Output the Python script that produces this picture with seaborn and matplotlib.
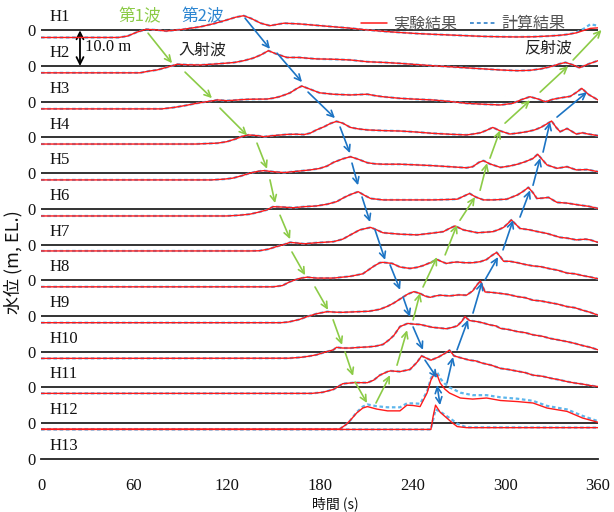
import numpy as np
import pandas as pd
import matplotlib
matplotlib.use("Agg")
import matplotlib.pyplot as plt
import seaborn as sns
from matplotlib.lines import Line2D

# ---------------- data ----------------
gauges = ["H1", "H2", "H3", "H4", "H5", "H6", "H7", "H8", "H9", "H10", "H11", "H12", "H13"]
x_ticks = [0, 60, 120, 180, 240, 300, 360]

h1_t = [0, 50, 56, 62, 68, 75, 81, 92, 103, 112, 120, 126, 131, 136, 142, 148, 153, 157, 162, 167, 178, 189, 200, 211, 222, 232, 243, 253, 264, 275, 286, 297, 308, 318, 328, 335, 341, 346, 351, 355, 360]
h1_exp = [-2.0, -2.0, -1.6, -0.5, 0.3, 0.1, -0.2, 0.3, 1.0, 1.9, 2.9, 3.7, 4.1, 3.3, 2.0, 1.3, 1.7, 2.0, 1.9, 1.8, 1.4, 1.0, 0.6, 0.1, -0.3, -0.6, -0.9, -1.1, -1.3, -1.5, -1.7, -1.8, -1.85, -1.8, -1.6, -1.4, -1.1, -0.7, 0.0, 0.55, 0.7]
h1_calc = [-2.0, -2.0, -1.6, -0.5, 0.3, 0.1, -0.2, 0.3, 1.0, 1.9, 2.9, 3.7, 4.1, 3.3, 2.0, 1.3, 1.7, 2.0, 1.9, 1.8, 1.4, 1.0, 0.6, 0.1, -0.3, -0.6, -0.9, -1.1, -1.3, -1.5, -1.7, -1.8, -1.85, -1.8, -1.6, -1.4, -1.1, -0.6, 0.5, 1.7, 1.3]

h2_t = [0, 64, 70, 75, 80, 85, 88, 95, 103, 110, 118, 125, 131, 137, 142, 147, 152, 159, 167, 172, 178, 189, 200, 211, 222, 232, 243, 253, 264, 275, 286, 297, 308, 316, 323, 330, 335, 339, 344, 348, 354, 360]
h2_exp = [-1.9, -1.9, -1.4, -1.1, -0.5, 0.1, 0.5, 0.35, 0.3, 0.5, 0.75, 1.0, 1.5, 2.2, 3.1, 4.3, 3.4, 2.4, 2.4, 2.2, 2.0, 1.9, 1.7, 1.2, 1.0, 0.75, 0.4, 0.1, -0.2, -0.5, -0.8, -1.1, -1.3, -1.2, -0.8, -0.1, 0.6, 1.0, 0.3, -0.5, 0.6, 1.5]

h3_t = [0, 78, 86, 94, 101, 107, 114, 120, 124, 130, 135, 146, 150, 154, 158, 161, 165, 168.5, 174, 180, 189, 200, 205, 211, 216, 221, 232, 243, 253, 264, 275, 286, 297, 305, 310, 316, 321, 326, 331, 336, 342, 346, 349.5, 354, 360]
h3_exp = [-2.0, -2.0, -1.6, -1.0, -0.4, 0.0, 0.5, 0.3, 0.4, 0.6, 0.7, 0.75, 1.0, 1.4, 2.0, 2.5, 3.6, 4.4, 3.5, 2.5, 2.1, 1.9, 2.0, 2.1, 1.7, 1.4, 0.95, 0.7, 0.5, 0.1, -0.45, -0.7, -0.9, -0.45, 0.5, 1.4, 0.8, 0.0, 0.7, 1.1, 1.5, 2.6, 3.75, 2.0, 0.5]

h4_t = [0, 100, 108, 114, 120, 126, 130, 134, 140, 144, 150, 159, 165, 170, 174, 178, 183, 187, 191, 195, 200, 205, 211, 222, 232, 243, 253, 264, 275, 280, 284, 288, 292, 297, 303, 308, 314, 319, 323, 327, 330, 333, 335.5, 340, 346, 350, 353, 360]
h4_exp = [-1.85, -1.85, -1.7, -1.6, -1.2, -0.4, 0.3, 0.7, 0.5, 0.2, 0.5, 0.85, 0.9, 0.8, 1.2, 2.1, 3.0, 3.9, 4.5, 4.0, 2.8, 2.4, 2.1, 1.9, 1.8, 1.5, 1.15, 0.9, 0.7, 1.0, 1.3, 2.0, 2.8, 1.8, 0.95, 1.2, 1.6, 2.1, 2.8, 3.8, 4.6, 2.8, 1.6, 2.5, 0.95, 1.3, 1.0, 0.5]

h5_t = [0, 110, 118, 124, 130, 135, 140, 144, 150, 157, 165, 174, 180, 185, 189, 195, 200, 205, 211, 216, 221, 232, 243, 253, 264, 275, 279, 283, 286, 290, 297, 303, 308, 313, 318, 321, 324, 327, 333.5, 340, 346, 353, 360]
h5_exp = [-1.9, -1.9, -1.7, -1.4, -0.7, 0.0, 0.5, 0.7, 0.4, 0.15, 0.5, 0.9, 1.3, 2.0, 3.0, 4.0, 4.6, 3.9, 2.9, 2.6, 2.5, 2.5, 2.3, 2.1, 1.8, 1.5, 1.8, 3.0, 3.5, 2.6, 1.6, 2.0, 2.5, 3.2, 4.1, 5.3, 3.8, 2.3, 1.35, 1.8, 0.9, 1.0, 0.4]

h6_t = [0, 120, 128, 135, 141, 146, 150, 156, 163, 170, 178, 185, 191, 196, 200, 205, 209, 213, 221, 232, 243, 253, 262, 269, 273, 277, 281, 286, 292, 301, 308, 312, 315, 318, 320.5, 324, 328, 333.5, 340, 348, 354, 360]
h6_exp = [-2.0, -2.0, -1.8, -1.5, -0.9, -0.3, 0.6, 0.5, 0.3, 0.6, 0.8, 1.3, 2.0, 3.2, 4.0, 4.8, 3.8, 2.9, 2.5, 2.5, 2.5, 2.5, 2.6, 2.7, 3.5, 4.3, 3.3, 2.5, 2.5, 2.7, 3.9, 5.0, 6.0, 4.5, 2.9, 3.0, 3.2, 1.8, 1.6, 1.05, 0.7, 0.1]

h7_t = [0, 135, 141, 147, 152, 157, 161, 166, 170, 178, 189, 195, 200, 206, 213, 217, 221, 232, 243, 253, 260, 264, 267.6, 273, 282, 292, 296, 299, 302, 304, 307, 309.6, 316, 320, 327, 335.5, 340, 346, 352, 355, 360]
h7_exp = [-1.8, -1.8, -1.75, -1.3, -0.6, 0.0, 0.6, 0.4, 0.2, 0.5, 0.8, 1.5, 2.7, 4.1, 4.8, 4.1, 3.3, 2.9, 2.7, 3.2, 3.6, 4.5, 5.2, 4.1, 3.3, 3.6, 4.2, 4.8, 6.0, 6.9, 5.6, 4.5, 4.1, 3.7, 3.1, 2.0, 1.8, 1.3, 1.5, 1.3, 0.6]

h8_t = [0, 150, 156, 161, 167, 172, 178, 185, 189, 200, 208, 212, 215, 219, 221, 227, 232, 238.5, 243, 247, 252, 256, 259, 262, 266, 269, 274, 279, 284, 288, 291, 294.5, 297, 299, 303, 308, 313, 318, 323, 329, 334, 340, 345, 350, 355, 360]
h8_exp = [-1.85, -1.85, -1.5, -0.4, 0.5, 0.85, 0.6, 0.6, 0.6, 1.1, 1.8, 3.0, 3.9, 4.9, 5.0, 4.7, 3.7, 3.3, 3.6, 4.1, 5.0, 5.8, 5.2, 4.7, 5.0, 5.1, 4.9, 4.9, 5.2, 5.8, 6.8, 7.8, 6.5, 5.3, 5.3, 4.9, 4.4, 4.0, 3.8, 3.2, 2.8, 2.0, 1.8, 1.3, 0.9, 0.4]

h9_t = [0, 155, 160, 167, 172, 178, 185, 190, 195, 200, 206, 212, 219, 224, 228, 233, 237, 241, 245, 248, 251.5, 255, 258, 264, 270, 275, 279, 282, 284, 287, 291, 297, 302, 308, 313, 318, 323, 329, 334, 340, 345, 350, 355, 360]
h9_exp = [-1.9, -1.9, -1.7, -1.0, -0.2, 0.6, 1.2, 1.05, 1.0, 1.1, 1.2, 1.3, 1.85, 2.7, 3.6, 5.0, 6.1, 6.8, 6.3, 5.6, 5.2, 5.6, 5.8, 5.6, 5.9, 5.8, 7.0, 8.8, 9.8, 6.7, 6.6, 6.3, 6.0, 5.4, 5.1, 4.4, 4.2, 3.7, 3.3, 2.6, 2.3, 1.6, 1.0, 0.2]

h10_t = [0, 160, 168, 173, 178, 184, 189, 191, 195, 200, 206, 211, 216, 221, 225, 228, 232, 237, 241, 245, 249, 253, 258, 262, 266, 269, 272, 274, 277, 282, 286, 290, 294, 297, 302, 308, 313, 318, 324, 329, 334, 340, 345, 350, 355, 360]
h10_exp = [-1.9, -1.85, -1.6, -1.3, -0.9, -0.1, 0.5, 1.2, 1.0, 1.0, 1.2, 1.3, 1.5, 2.0, 3.3, 4.5, 7.0, 7.9, 7.7, 7.6, 7.2, 6.8, 6.6, 6.4, 6.8, 7.2, 8.5, 9.8, 8.7, 8.4, 8.0, 7.5, 7.2, 6.5, 6.2, 5.6, 5.3, 4.7, 4.3, 3.7, 3.3, 2.8, 2.3, 1.7, 1.2, 0.5]

h11_t = [0, 175, 182, 189, 195, 202, 211, 215, 219, 224, 226, 232, 238.5, 243, 246, 249, 252, 257, 261, 264, 267, 271, 277, 281, 285, 291, 297, 302, 308, 313, 318, 324, 330, 335, 340, 345, 350, 355, 360]
h11_exp = [-1.7, -1.7, -1.4, -0.6, 1.0, 1.3, 1.3, 2.0, 3.4, 4.4, 4.6, 4.4, 5.0, 7.0, 8.8, 8.2, 7.6, 8.5, 9.5, 10.4, 8.8, 8.3, 7.6, 7.4, 6.8, 6.2, 5.3, 5.0, 4.5, 4.1, 3.4, 3.1, 2.5, 2.1, 1.6, 1.2, 0.9, 0.5, 0.2]

h12_t = [0, 193, 197, 200, 204, 208, 211, 217, 224, 232, 236.5, 240.5, 245, 249.5, 252, 254.5, 256, 258, 261, 264, 271, 279, 288, 297, 308, 318, 327, 340, 350, 360]
h12_exp = [-1.7, -1.7, -0.5, 0.8, 2.8, 4.2, 4.6, 3.9, 3.4, 3.4, 5.0, 4.9, 4.6, 8.4, 12.0, 14.0, 13.5, 11.2, 9.5, 8.4, 7.0, 6.7, 7.0, 6.3, 6.0, 5.6, 4.2, 3.25, 1.4, 0.2]
h12_calc = [-1.7, -1.7, -0.5, 0.8, 3.0, 4.6, 5.2, 4.7, 4.4, 4.4, 5.5, 5.5, 5.4, 8.8, 12.5, 14.5, 14.3, 12.5, 11.0, 10.0, 8.5, 7.8, 7.8, 7.2, 6.8, 6.2, 4.8, 3.8, 2.0, 0.5]

h13_t = [0, 252, 253.5, 255, 258, 262, 266, 269, 275, 360]
h13_exp = [8.2, 8.2, 12.0, 15.0, 13.0, 11.5, 10.0, 9.0, 8.7, 8.7]
h13_calc = [8.2, 8.2, 11.0, 13.8, 13.2, 12.0, 10.8, 9.8, 8.8, 8.7]

times = [h1_t, h2_t, h3_t, h4_t, h5_t, h6_t, h7_t, h8_t, h9_t, h10_t, h11_t, h12_t, h13_t]
exp_vals = [h1_exp, h2_exp, h3_exp, h4_exp, h5_exp, h6_exp, h7_exp, h8_exp, h9_exp, h10_exp, h11_exp, h12_exp, h13_exp]
# computed series: identical to the experiment where the two overlap in the picture
calc_vals = [h1_calc, h2_exp, h3_exp, h4_exp, h5_exp, h6_exp, h7_exp, h8_exp, h9_exp, h10_exp, h11_exp, h12_calc, h13_calc]

# ---------------- figure ----------------
sns.set_style("white")
plt.rcParams["font.family"] = ["Liberation Serif", "Noto Sans CJK JP"]
CJK = ["Noto Sans CJK JP", "DejaVu Sans"]
RED = "#FF1A1A"
BLUE = "#5DB6EC"
GREEN = "#8CCB47"
ABLUE = "#1C74C4"

fig = plt.figure(figsize=(6.14, 5.12), dpi=100)
ax = fig.add_axes([41 / 614, 1 - 458.7 / 512, 557 / 614, 458.7 / 512])

spacing = 10.0
n = len(gauges)
for k, g in enumerate(gauges):
    base = (n - 1 - k) * spacing
    if k < n - 1:
        ax.axhline(base, color="#111111", lw=1.2, zorder=1)
    df = pd.DataFrame({"t": times[k], "exp": np.array(exp_vals[k]) + base,
                       "calc": np.array(calc_vals[k]) + base})
    sns.lineplot(data=df, x="t", y="calc", ax=ax, color=BLUE, lw=1.6, zorder=3, sort=False,
                 linestyle=(0, (1.6, 1.2)))
    sns.lineplot(data=df, x="t", y="exp", ax=ax, color=RED, lw=1.0, zorder=4, sort=False)
    ax.text(5.6, base + 3.6, g, fontsize=12, va="center", ha="left", color="#111111")

ax.set_xlim(0, 360)
ax.set_ylim(0, 128.5)
ax.set_xticks(x_ticks)
ax.set_xticklabels([str(v) for v in x_ticks])
ax.set_yticks([(n - 1 - k) * spacing for k in range(n)])
ax.set_yticklabels(["0"] * n)
ax.tick_params(axis="x", direction="in", length=5, width=1.2, pad=14, labelsize=12, colors="#111111")
ax.tick_params(axis="y", length=0, pad=4, labelsize=12, colors="#111111")
ax.set_xlabel("")
ax.set_ylabel("")
for s in ["top", "left", "right"]:
    ax.spines[s].set_visible(False)
ax.spines["bottom"].set_color("#222222")
ax.spines["bottom"].set_linewidth(1.3)

# propagation arrows
green_arrows = [((69.2, 119.2), (84.7, 110.8)), ((93.1, 108.3), (110.5, 101.0)),
                ((115.7, 98.2), (133.2, 90.6)), ((139.6, 88.4), (146.1, 81.2)),
                ((148.0, 78.1), (151.3, 71.6)), ((154.5, 68.2), (161.0, 61.5)),
                ((162.2, 57.9), (170.7, 51.4)), ((177.1, 48.1), (185.5, 41.7)),
                ((188.8, 38.9), (194.6, 31.9)), ((196.5, 29.9), (201.7, 23.2)),
                ((203.0, 21.5), (210.7, 15.6)),
                ((216.5, 15.6), (225.6, 23.4)), ((230.1, 26.2), (236.6, 36.0)),
                ((240.5, 38.9), (245.0, 46.4)), ((246.9, 48.1), (256.0, 56.5)),
                ((261.2, 57.1), (268.9, 65.5)), ((270.8, 66.8), (280.5, 73.3)),
                ((283.8, 75.2), (288.3, 82.8)), ((290.2, 84.2), (296.7, 92.0)),
                ((299.9, 94.0), (316.1, 100.4)), ((322.6, 102.7), (340.7, 110.0)),
                ((343.9, 111.7), (362.3, 120.1))]
blue_arrows = [((131.9, 123.4), (148.0, 114.8)), ((152.6, 113.6), (168.7, 105.5)),
               ((172.6, 102.7), (190.0, 95.4)), ((193.3, 92.9), (199.7, 85.6)),
               ((201.0, 82.8), (204.9, 76.6)), ((207.5, 73.3), (212.7, 66.3)),
               ((215.9, 64.1), (222.4, 55.7)), ((225.6, 54.3), (232.1, 47.3)),
               ((234.0, 45.3), (238.5, 39.7)), ((240.5, 36.9), (246.9, 30.5)),
               ((248.2, 27.6), (256.0, 22.6)),
               ((262.4, 21.2), (266.3, 28.5)), ((268.9, 30.5), (276.0, 38.9)),
               ((279.2, 40.8), (285.1, 49.5)), ((287.0, 50.1), (295.4, 56.5)),
               ((298.6, 58.5), (305.1, 66.8)), ((309.6, 67.7), (316.1, 75.2)),
               ((318.0, 76.6), (322.6, 84.2)), ((324.5, 85.9), (329.0, 94.3)),
               ((333.5, 95.7), (352.9, 102.7))]
for (p0, p1) in green_arrows:
    ax.annotate("", xy=p1, xytext=p0, annotation_clip=False, zorder=6,
                arrowprops=dict(arrowstyle="->,head_length=0.45,head_width=0.22", color=GREEN, lw=1.2,
                                shrinkA=0, shrinkB=0))
for (p0, p1) in blue_arrows:
    ax.annotate("", xy=p1, xytext=p0, annotation_clip=False, zorder=6,
                arrowprops=dict(arrowstyle="->,head_length=0.45,head_width=0.22", color=ABLUE, lw=1.2,
                                shrinkA=0, shrinkB=0))
ax.annotate("", xy=(257.9, 15.0), xytext=(256.0, 20.6), annotation_clip=False, zorder=6,
            arrowprops=dict(arrowstyle="<->,head_length=0.45,head_width=0.22", color=ABLUE, lw=1.2,
                            shrinkA=0, shrinkB=0))

# scale bar
ax.annotate("", xy=(25.2, 110.0), xytext=(25.2, 120.0), annotation_clip=False,
            arrowprops=dict(arrowstyle="<->,head_length=0.5,head_width=0.25", color="black", lw=1.3,
                            shrinkA=0, shrinkB=0))
ax.text(28.4, 115.3, "10.0 m", fontsize=12, va="center", ha="left", color="#111111")

ax.text(64.0, 123.8, "第1波", family=CJK, fontsize=12, color=GREEN, ha="center", va="center")
ax.text(104.7, 123.8, "第2波", family=CJK, fontsize=12, color="#2E86D1", ha="center", va="center")
ax.text(104.1, 114.6, "入射波", family=CJK, fontsize=11.5, color="#222222", ha="center", va="center")
ax.text(327.7, 115.1, "反射波", family=CJK, fontsize=11.5, color="#222222", ha="center", va="center")

handles = [Line2D([0], [0], color=RED, lw=1.1),
           Line2D([0], [0], color=ABLUE, lw=1.1, linestyle=(0, (2.5, 2.0)))]
leg = ax.legend(handles, ["実験結果", "計算結果"], loc="upper right", bbox_to_anchor=(0.968, 0.998),
                ncol=2, frameon=False, handlelength=1.6, handletextpad=0.4, columnspacing=0.8,
                prop={"family": CJK, "size": 11.5})
for txt in leg.get_texts():
    txt.set_color("#555555")

fig.text(335 / 614, 1 / 512, "時間 (s)", family=CJK, fontsize=10, ha="center", va="bottom",
         color="#111111")
fig.text(13 / 614, 1 - 262 / 512, "水位 (m, EL.)", family=CJK, fontsize=13, ha="center", va="center",
         rotation=90, color="#111111")

fig.savefig("out.png", dpi=100)
